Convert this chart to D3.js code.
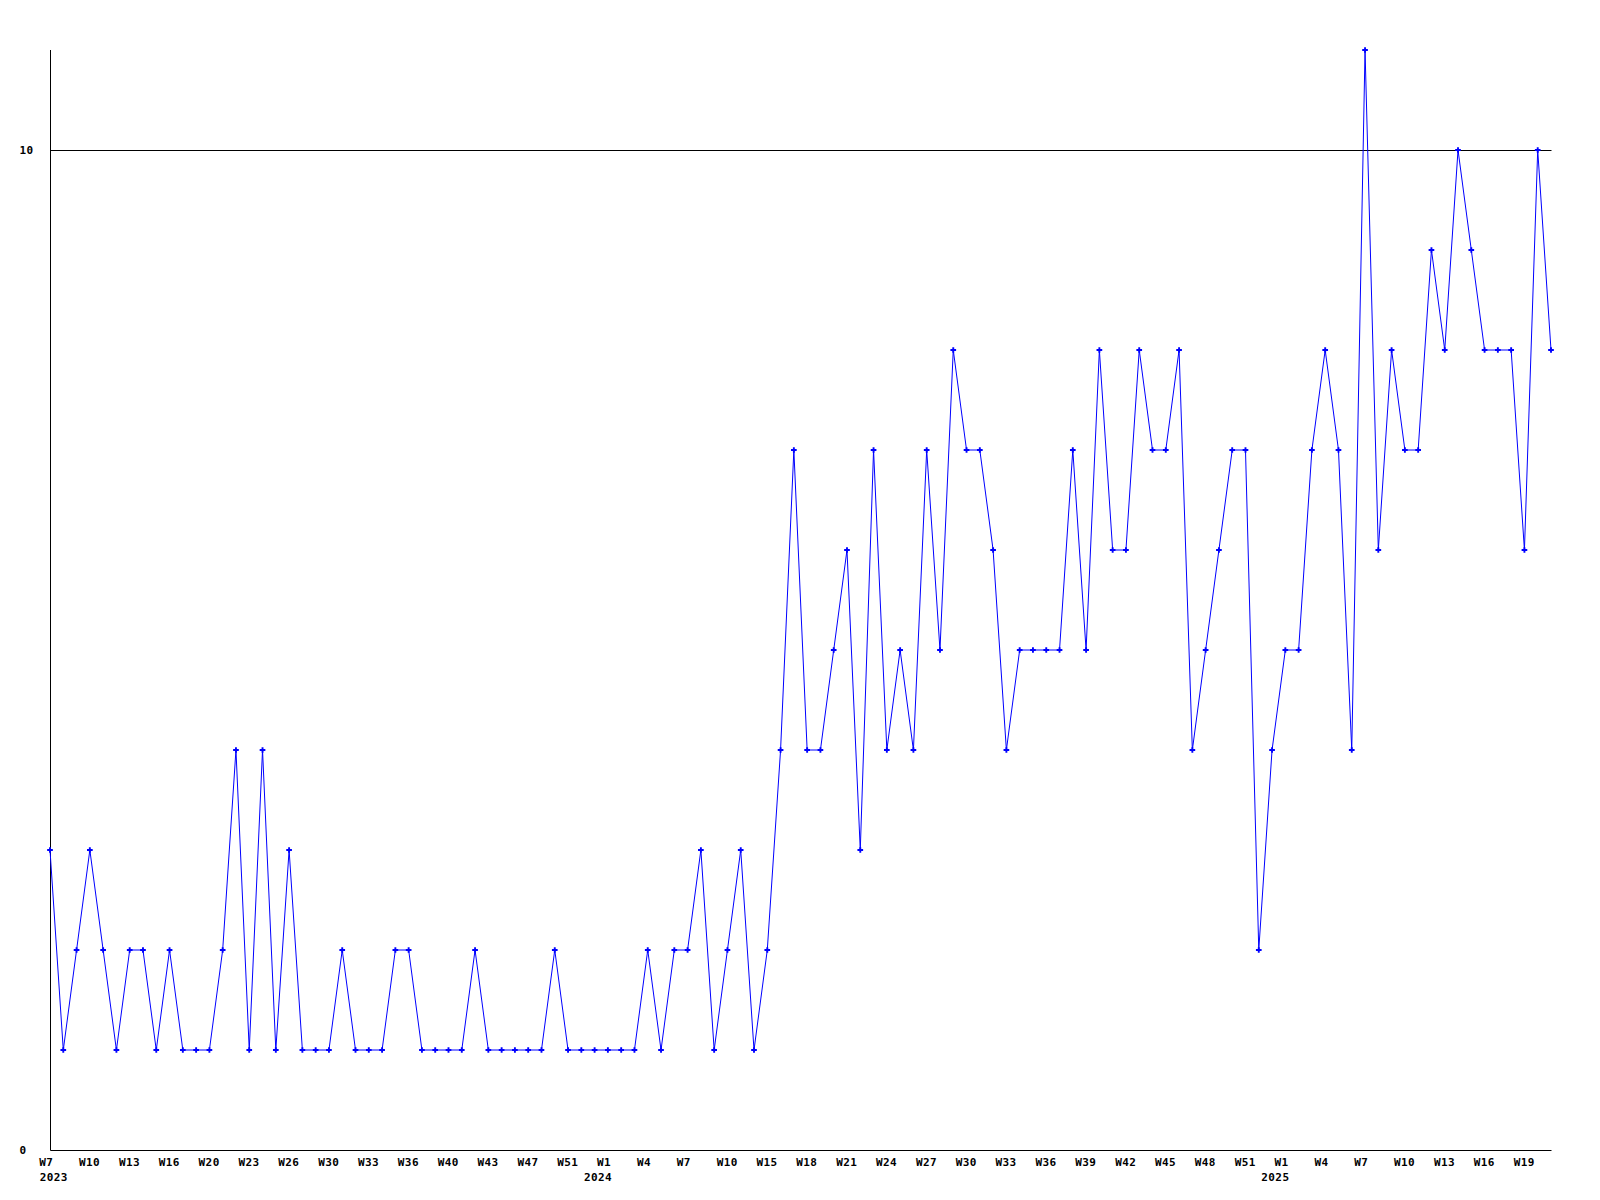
<!DOCTYPE html>
<html>
<head>
<meta charset="utf-8">
<script src="https://cdn.jsdelivr.net/npm/d3@7"></script>
<style>
  html, body { margin: 0; padding: 0; background: #fff; }
  svg { display: block; }
  text { font-family: "DejaVu Sans Mono", "Liberation Mono", monospace; font-weight: bold; font-size: 11px; letter-spacing: 0.4px; fill: #000; }
</style>
</head>
<body>
<svg id="chart" width="1600" height="1200"></svg>
<script>
// Series values, one per point (evenly spaced)
const values = [
  3,1,2,3,2,1,2,2,1,2,
  1,1,1,2,4,1,4,1,3,1,
  1,1,2,1,1,1,2,2,1,1,
  1,1,2,1,1,1,1,1,2,1,
  1,1,1,1,1,2,1,2,2,3,
  1,2,3,1,2,4,7,4,4,5,
  6,3,7,4,5,4,7,5,8,7,
  7,6,4,5,5,5,5,7,5,8,
  6,6,8,7,7,8,4,5,6,7,
  7,2,4,5,5,7,8,7,4,11,
  6,8,7,7,9,8,10,9,8,8,
  8,6,10,8
];
// X tick labels, one on every third point
const tickLabels = [
  "W7","W10","W13","W16","W20","W23","W26","W30","W33","W36","W40","W43","W47","W51",
  "W1","W4","W7","W10","W15","W18","W21","W24","W27","W30","W33","W36","W39","W42","W45","W48","W51",
  "W1","W4","W7","W10","W13","W16","W19"
];
const tickStep = 3;
// Year labels and the tick label they sit under
const yearLabels = ["2023","2024","2025"];
const yearTickIndex = [0, 14, 31];
// Y axis ticks
const yTicks = [0, 10];
const yMax = 11;

(function () {
const svg = d3.select("#chart");
const mLeft = 50, mRight = 1551, mTop = 50, mBottom = 1150;

const x = d3.scaleLinear().domain([0, values.length - 1]).range([mLeft, mRight]);
const y = d3.scaleLinear().domain([0, yMax]).range([mBottom, mTop]);

const crisp = v => Math.round(v) + 0.5;

// horizontal gridline at 10
svg.append("g").selectAll("line").data(yTicks.filter(t => t > 0)).join("line")
  .attr("x1", crisp(mLeft)).attr("x2", crisp(mRight))
  .attr("y1", d => crisp(y(d))).attr("y2", d => crisp(y(d)))
  .attr("stroke", "#000").attr("stroke-width", 1);

// axes
svg.append("line")
  .attr("x1", crisp(mLeft)).attr("x2", crisp(mLeft))
  .attr("y1", crisp(y(yMax)) - 0.5).attr("y2", crisp(y(0)))
  .attr("stroke", "#000");
svg.append("line")
  .attr("x1", crisp(mLeft)).attr("x2", crisp(mRight))
  .attr("y1", crisp(y(0))).attr("y2", crisp(y(0)))
  .attr("stroke", "#000");

// y labels
svg.append("g").selectAll("text").data(yTicks).join("text")
  .attr("x", 19.5).attr("y", d => y(d) + 4)
  .text(d => d);

// x labels
svg.append("g").selectAll("text").data(tickLabels).join("text")
  .attr("x", (d, i) => x(i * tickStep) - 10.8)
  .attr("y", y(0) + 16)
  .text(d => d);

// year labels
svg.append("g").selectAll("text").data(yearLabels).join("text")
  .attr("x", (d, i) => Math.max(x(yearTickIndex[i] * tickStep) - 24, x(0) - 10.3))
  .attr("y", y(0) + 31)
  .text(d => d);

// line
const line = d3.line().x((d, i) => x(i)).y(d => y(d));
svg.append("path").datum(values)
  .attr("d", line)
  .attr("fill", "none")
  .attr("stroke", "#0000ff")
  .attr("stroke-width", 1);

// markers
const sym = d3.symbol().type(d3.symbolCross).size(18);
svg.append("g").selectAll("path").data(values).join("path")
  .attr("transform", (d, i) => `translate(${x(i)},${y(d)})`)
  .attr("d", sym)
  .attr("fill", "#0000ff");
})();
</script>
</body>
</html>
